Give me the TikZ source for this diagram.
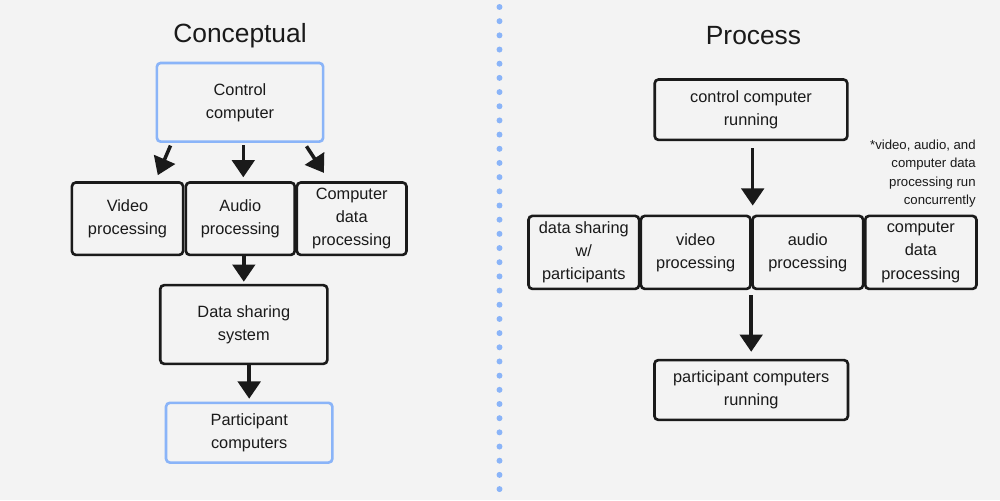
\documentclass[tikz,border=0pt]{standalone}
\usepackage{fontspec}
\setmainfont{Liberation Sans}
\usetikzlibrary{arrows.meta,calc}
\def\pxu{0.5669pt}
\definecolor{bg}{HTML}{F3F3F3}
\definecolor{lblue}{HTML}{8AB4F8}
\definecolor{ink}{HTML}{1A1A1A}
\begin{document}
\begin{tikzpicture}[x=0.02cm,y=-0.02cm,
  box/.style 2 args={draw=ink, line width=1.5pt, rounded corners=2.2pt, rectangle,
    minimum width=#1*\pxu, minimum height=#2*\pxu, inner sep=0pt, align=center,
    text=ink, font=\fontsize{9.3}{13.1}\selectfont},
  bluebox/.style={draw=lblue},
  arr/.style={draw=ink, line width=2pt, -{Triangle[width=12.8pt,length=9.8pt]}},
  title/.style={font=\fontsize{15}{18}\selectfont, text=ink, inner sep=0pt},
  note/.style={font=\fontsize{7.5}{10.3}\selectfont, text=ink, align=right, inner sep=0pt}
]
\fill[bg] (0,0) rectangle (1000,500);
\useasboundingbox (0,0) rectangle (1000,500);

% divider
\draw[lblue, line width=3.4pt, line cap=round, dash pattern=on 0pt off 8.07pt] (499.5,7) -- (499.5,491.5);

% titles
\node[title] (t1) at (240,35.5) {Conceptual};
\node[title] (t2) at (753.5,35.5) {Process};

% left diagram
\node[box={167}{79}, bluebox] (ctrl) at (240,102.3) {Control\\computer};
\node[box={111.6}{72.7}] (video) at (127.5,218.7) {Video\\processing};
\node[box={109.3}{72.7}] (audio) at (240.3,218.7) {Audio\\processing};
\node[box={110}{72.7}] (comp) at (351.7,218.7) {Computer\\data\\processing};
\node[box={167.7}{79}] (share) at (243.8,324.5) {Data sharing\\system};
\node[box={167}{60}, bluebox] (part) at (249.2,432.7) {Participant\\computers};

\draw[arr] ($(ctrl.south west)+(15,2.6)$) -- ($(video.north east)+(-26.6,-6)$);
\draw[arr, shorten <=1.3pt, shorten >=2.2pt] (ctrl.south -| 243.3,0) -- (audio.north -| 243.3,0);
\draw[arr] ($(ctrl.south east)+(-18,3.3)$) -- ($(comp.north west)+(28.3,-8.3)$);
\draw[arr, shorten >=1.2pt] (audio.south -| share.north) -- (share.north);
\draw[arr, shorten >=1.6pt] (share.south -| part.north) -- (part.north);

% right diagram
\node[box={193.4}{60.7}] (ctrlR) at (751,109.7) {control computer\\running};
\node[box={111}{73.3}] (shareR) at (583.8,252.4) {data sharing\\w/\\participants};
\node[box={110}{73.3}] (videoR) at (695.7,252.4) {video\\processing};
\node[box={111}{73.3}] (audioR) at (807.8,252.4) {audio\\processing};
\node[box={111.7}{73.3}] (compR) at (920.8,252.4) {computer\\data\\processing};
\node[box={194.3}{60}] (partR) at (751.2,390) {participant computers\\running};

\node[note, anchor=north east] (noteR) at (976,140) {*video, audio, and\\computer data\\processing run\\concurrently};

\draw[arr, shorten <=4pt, shorten >=5.1pt] (ctrlR.south -| 752.7,0) -- (videoR.north -| 752.7,0);
\draw[arr, shorten <=2.8pt, shorten >=4pt] (audioR.south -| partR.north) -- (partR.north);
\end{tikzpicture}
\end{document}
